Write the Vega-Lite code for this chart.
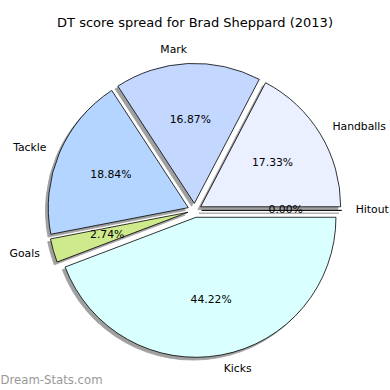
{
  "$schema": "https://vega.github.io/schema/vega-lite/v6.json",
  "width": 390,
  "height": 330,
  "autosize": {"type": "none"},
  "padding": {"left": 0, "top": 40, "right": 0, "bottom": 20},
  "background": "white",
  "title": {"text": "DT score spread for Brad Sheppard (2013)", "font": "DejaVu Sans", "fontSize": 13, "fontWeight": "normal", "color": "#000000", "anchor": "middle", "offset": 10},
  "config": {
    "view": {"stroke": null},
    "axisX": {"labels": false, "ticks": false, "domain": false, "grid": false, "titleAnchor": "start", "titleAlign": "left", "titleColor": "#999999", "titleFont": "DejaVu Sans", "titleFontSize": 11.7, "titleFontWeight": "normal", "titlePadding": 4}
  },
  "data": {"values": [
    {"label": "Handballs", "pct": 17.33, "order": 1},
    {"label": "Mark", "pct": 16.87, "order": 2},
    {"label": "Tackle", "pct": 18.84, "order": 3},
    {"label": "Goals", "pct": 2.74, "order": 4},
    {"label": "Kicks", "pct": 44.22, "order": 5},
    {"label": "Hitout", "pct": 0.0, "order": 6}
  ]},
  "transform": [
    {"window": [{"op": "sum", "field": "pct", "as": "cum"}], "sort": [{"field": "order"}], "frame": [null, 0]},
    {"calculate": "datum.cum - datum.pct", "as": "start"},
    {"calculate": "PI * (datum.start + datum.cum) / 100", "as": "a"},
    {"calculate": "0.05 * cos(datum.a)", "as": "ex"},
    {"calculate": "0.05 * sin(datum.a)", "as": "ey"},
    {"calculate": "datum.ex - 0.02", "as": "sx"},
    {"calculate": "datum.ey - 0.02", "as": "sy"},
    {"calculate": "1.15 * cos(datum.a)", "as": "lx"},
    {"calculate": "1.15 * sin(datum.a)", "as": "ly"},
    {"calculate": "0.65 * cos(datum.a)", "as": "px"},
    {"calculate": "0.65 * sin(datum.a)", "as": "py"},
    {"calculate": "format(datum.pct, '.2f') + '%'", "as": "pctLabel"}
  ],
  "layer": [
    {
      "mark": {"type": "arc", "outerRadius": 140, "fill": "#a0a0a0", "stroke": "#a0a0a0", "strokeWidth": 0.8},
      "encoding": {
        "theta": {"field": "start", "type": "quantitative", "stack": null, "scale": {"domain": [0, 100], "range": [1.5708, -4.7124]}},
        "theta2": {"field": "cum"},
        "x": {"field": "sx", "type": "quantitative", "scale": {"domain": [-1.3907, 1.395], "nice": false, "zero": false}, "axis": {"title": "Dream-Stats.com"}},
        "y": {"field": "sy", "type": "quantitative", "scale": {"domain": [-1.14, 1.2171], "nice": false, "zero": false}, "axis": null}
      }
    },
    {
      "mark": {"type": "arc", "outerRadius": 140, "stroke": "#000000", "strokeWidth": 0.8},
      "encoding": {
        "theta": {"field": "start", "type": "quantitative", "stack": null, "scale": {"domain": [0, 100], "range": [1.5708, -4.7124]}},
        "theta2": {"field": "cum"},
        "x": {"field": "ex", "type": "quantitative", "axis": {"title": "Dream-Stats.com"}},
        "y": {"field": "ey", "type": "quantitative", "axis": null},
        "color": {"field": "label", "type": "nominal", "legend": null, "scale": {"domain": ["Handballs", "Mark", "Tackle", "Goals", "Kicks", "Hitout"], "range": ["#eaf0ff", "#c3d7ff", "#b4d5ff", "#cfea8c", "#d9ffff", "#ffffff"]}}
      }
    },
    {
      "transform": [{"filter": "datum.lx < 0"}],
      "mark": {"type": "text", "align": "right", "baseline": "middle", "font": "DejaVu Sans", "fontSize": 10.8, "color": "#000000"},
      "encoding": {
        "x": {"field": "lx", "type": "quantitative", "axis": {"title": "Dream-Stats.com"}},
        "y": {"field": "ly", "type": "quantitative", "axis": null},
        "text": {"field": "label"}
      }
    },
    {
      "transform": [{"filter": "datum.lx >= 0"}],
      "mark": {"type": "text", "align": "left", "baseline": "middle", "font": "DejaVu Sans", "fontSize": 10.8, "color": "#000000"},
      "encoding": {
        "x": {"field": "lx", "type": "quantitative", "axis": {"title": "Dream-Stats.com"}},
        "y": {"field": "ly", "type": "quantitative", "axis": null},
        "text": {"field": "label"}
      }
    },
    {
      "mark": {"type": "text", "align": "center", "baseline": "middle", "font": "DejaVu Sans", "fontSize": 10.8, "color": "#000000"},
      "encoding": {
        "x": {"field": "px", "type": "quantitative", "axis": {"title": "Dream-Stats.com"}},
        "y": {"field": "py", "type": "quantitative", "axis": null},
        "text": {"field": "pctLabel"}
      }
    }
  ]
}
